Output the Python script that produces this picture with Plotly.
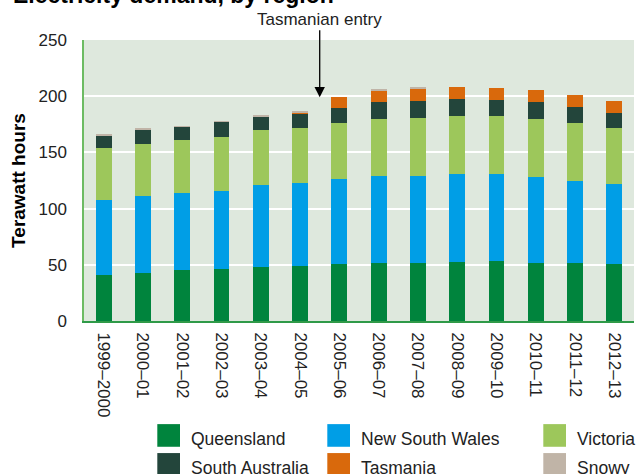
import plotly.graph_objects as go

years = ["1999–2000", "2000–01", "2001–02", "2002–03", "2003–04", "2004–05",
         "2005–06", "2006–07", "2007–08", "2008–09", "2009–10", "2010–11",
         "2011–12", "2012–13"]

queensland = [40.6, 42.4, 45.0, 45.9, 47.7, 48.6, 50.4, 51.3, 51.3, 52.1, 53.0, 51.3, 51.3, 50.4]
new_south_wales = [66.7, 68.4, 68.5, 70.2, 72.9, 73.8, 75.5, 77.3, 77.3, 78.3, 77.4, 76.4, 73.7, 71.1]
victoria = [46.2, 47.1, 47.1, 48.0, 48.9, 49.7, 50.7, 51.5, 52.4, 52.4, 52.4, 52.4, 51.6, 50.6]
south_australia = [11.5, 12.5, 12.4, 13.4, 12.4, 12.5, 13.3, 14.3, 14.3, 15.1, 14.2, 14.3, 14.2, 13.4]
tasmania = [0, 0, 0, 0, 0, 0.9, 9.8, 10.6, 11.5, 10.7, 10.7, 11.5, 10.7, 10.6]
snowy = [0.9, 0.9, 0.4, 0.4, 0.9, 0.9, 0, 0.9, 0.9, 0, 0, 0, 0, 0]

series_names = ["Queensland", "New South Wales", "Victoria", "South Australia", "Tasmania", "Snowy"]
series_values = [queensland, new_south_wales, victoria, south_australia, tasmania, snowy]
series_colors = ["#00843d", "#009ee6", "#9dc75b", "#23453b", "#d9690c", "#c0b4a7"]

W, H = 636, 474
L, R, T, B = 84, 2, 39.5, 153
PW = W - L - R
PH = H - T - B

FONT = "Liberation Sans, Arial, Helvetica, sans-serif"
TXT = "#222222"

fig = go.Figure()
for name, vals, col in zip(series_names, series_values, series_colors):
    fig.add_trace(go.Bar(x=years, y=vals, name=name, marker_color=col,
                         marker_line_width=0, showlegend=False, hoverinfo="skip"))


def px_x(p):
    return (p - L) / PW


def px_y(p):
    return (H - B - p) / PH


# manual legend (3 columns, 2 rows)
col_x = [157.3, 327.3, 543.3]
row_y = [424.3, 453.3]
sw = 22.7
shapes = []
annots = []
for i, (name, col) in enumerate(zip(series_names, series_colors)):
    r, c = divmod(i, 3)
    x0 = col_x[c]
    y0 = row_y[r]
    shapes.append(dict(type="rect", xref="paper", yref="paper",
                       x0=px_x(x0), x1=px_x(x0 + sw), y0=px_y(y0 + sw), y1=px_y(y0),
                       fillcolor=col, line_width=0, layer="above"))
    annots.append(dict(xref="paper", yref="paper", x=px_x(x0 + 32), y=px_y(y0 + sw / 2 + 4),
                       xanchor="left", yanchor="middle", showarrow=False, text=name,
                       font=dict(family=FONT, size=17.5, color=TXT)))

# title (partly cut off at top)
annots.append(dict(xref="paper", yref="paper", x=px_x(11), y=px_y(9.5),
                   xanchor="left", yanchor="bottom", showarrow=False,
                   text="<b>Electricity demand, by region</b>",
                   font=dict(family=FONT, size=23, color="#000000")))

# Tasmanian entry arrow
annots.append(dict(x=5.5, y=199, xref="x", yref="y", text="Tasmanian entry",
                   showarrow=True, ax=0, ay=-78, arrowhead=2, arrowsize=1.6,
                   arrowwidth=1.3, arrowcolor="#000000",
                   font=dict(family=FONT, size=17, color=TXT)))

fig.update_layout(
    width=W, height=H,
    margin=dict(l=L, r=R, t=T, b=B, pad=0),
    barmode="stack", bargap=0.593,
    paper_bgcolor="white", plot_bgcolor="#dee8dd",
    font=dict(family=FONT, size=17, color=TXT),
    shapes=shapes, annotations=annots,
    xaxis=dict(type="category", range=[-0.5, 13.5], tickangle=90,
               showline=True, linecolor="#2f9a48", linewidth=2,
               showgrid=False, ticks="", ticklabelstandoff=6,
               tickfont=dict(family=FONT, size=17, color=TXT)),
    yaxis=dict(range=[0, 250], dtick=50, showgrid=True, gridcolor="white",
               gridwidth=2, zeroline=False, showline=True, linecolor="#6dbb63",
               linewidth=1.5, ticks="", ticklabelstandoff=12,
               tickfont=dict(family=FONT, size=17, color=TXT),
               title=dict(text="<b>Terawatt hours</b>", standoff=8,
                          font=dict(family=FONT, size=19, color="#000000"))),
)

fig.write_html("out.html", config={"displayModeBar": False},
               post_script="document.body.style.margin='0';document.body.style.overflow='hidden';")
